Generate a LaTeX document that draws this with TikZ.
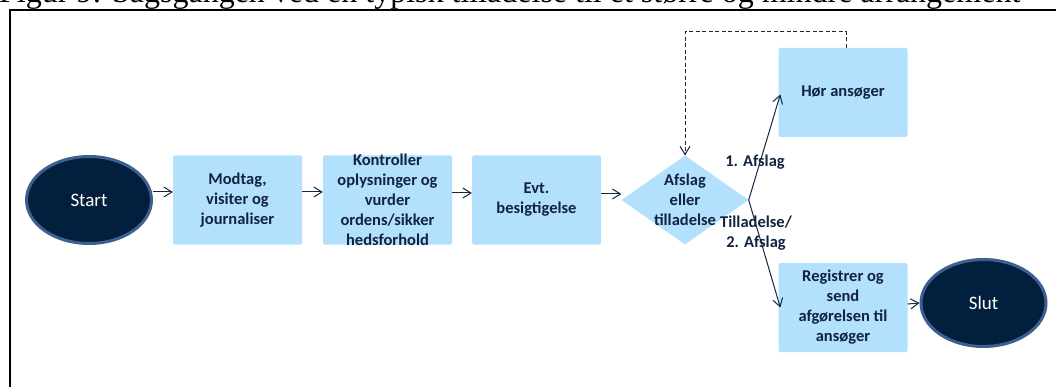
\documentclass[tikz,border=0pt]{standalone}
\usepackage{fontspec}
\setmainfont{Carlito}
\newfontfamily\titlefont{Liberation Serif}
\usetikzlibrary{shapes.geometric,arrows.meta,calc}
\definecolor{boxblue}{RGB}{179,224,252}
\definecolor{navy}{RGB}{16,36,64}
\definecolor{ovalfill}{RGB}{2,31,61}
\definecolor{ovalline}{RGB}{62,96,145}
\definecolor{linecol}{RGB}{20,38,66}
\begin{document}
\begin{tikzpicture}[x=1pt,y=-1pt,
 stepbox/.style={rectangle, rounded corners=2pt, fill=boxblue, minimum width=129pt, minimum height=89pt, inner sep=0pt, align=center, text=navy, font=\fontsize{16.5}{20}\selectfont\bfseries},
 oval/.style={ellipse, fill=ovalfill, draw=ovalline, line width=3pt, minimum width=125pt, minimum height=87pt, inner sep=0pt, text=white, font=\fontsize{19}{23}\selectfont},
 decision/.style={diamond, fill=boxblue, minimum width=127pt, minimum height=89pt, inner sep=0pt},
 boxtext/.style={align=center, text=navy, inner sep=0pt, font=\fontsize{16.5}{20}\selectfont\bfseries},
 arr/.style={draw=linecol, line width=1pt, -{Straight Barb[length=8pt,width=10pt]}},
 dasharr/.style={arr, dash pattern=on 4pt off 2.5pt},
 edgelabel/.style={text=navy, font=\fontsize{16.5}{20}\selectfont\bfseries, align=center, inner sep=0pt}
]
\useasboundingbox (0,0) rectangle (1056,387);
\fill[white] (0,0) rectangle (1056,387);

\node[anchor=base west, inner sep=0pt, font=\titlefont\fontsize{32}{36}\selectfont] (title) at (-1,2.5) {Figur 9: Sagsgangen ved en typisk tilladelse til et større og mindre arrangement};
\draw[line width=2pt] (10,387) -- (10,10) -- (1056,10);

\node[oval] (start) at (89,200) {Start};
\node[stepbox] (b1) at (237.5,200) {Modtag,\\visiter og\\journaliser};
\node[stepbox, label={[boxtext]center:Kontroller\\oplysninger og\\vurder\\ordens/sikker\\hedsforhold}] (b2) at (387.5,200) {};
\node[stepbox] (b3) at (536.5,200) {Evt.\\besigtigelse};
\node[decision, label={[boxtext]center:Afslag\\eller\\tilladelse}] (d) at (685,200) {};
\node[stepbox] (hor) at (843,92.5) {Hør ansøger};
\node[stepbox] (reg) at (843,307.5) {Registrer og\\send\\afgørelsen til\\ansøger};
\node[oval] (slut) at (983.5,303) {Slut};

\draw[arr] ([yshift=8pt]start.east) -- ([yshift=8pt]b1.west);
\draw[arr] ([yshift=8pt]b1.east) -- ([yshift=8pt]b2.west);
\draw[arr] ([yshift=7pt]b2.east) -- ([yshift=7pt]b3.west);
\draw[arr] ([yshift=6pt]b3.east) -- ([yshift=6pt]d.west);
\draw[arr] (d.east) -- ([xshift=2pt,yshift=-2pt]hor.west);
\draw[arr] (d.east) -- ([xshift=2pt]reg.west);
\draw[arr] ([yshift=3.5pt]reg.east) -- (slut.west);
\draw[dasharr] ([xshift=3pt]hor.north) -- ++(0pt,16pt) -| (d.north);

\node[edgelabel] (l1) at (755,162) {1. Afslag};
\node[edgelabel] (l2) at (756,233) {Tilladelse/\\2. Afslag};
\end{tikzpicture}
\end{document}
